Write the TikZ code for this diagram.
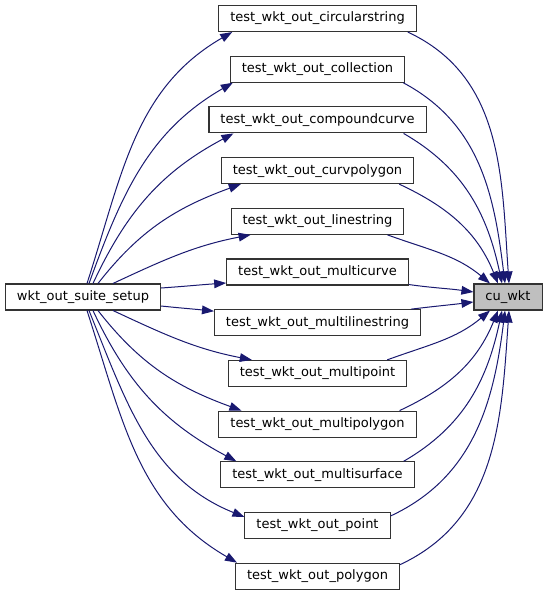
\documentclass[tikz,border=0pt]{standalone}
\usepackage{fontspec}
\setmainfont{DejaVu Sans}
\usetikzlibrary{arrows.meta}
\definecolor{callblue}{HTML}{191970}
\definecolor{hitgray}{HTML}{BFBFBF}
\tikzset{
   fn/.style = {draw=black!80, fill=white, line width=0.8pt, minimum height=19.5pt,
                inner xsep=8.6pt, inner ysep=0pt, font=\fontsize{9.75}{11}\selectfont},
   call/.style = {callblue, line width=0.75pt, -{Triangle[length=9pt,width=6.5pt]}},
}
\begin{document}
\begin{tikzpicture}[x=0.75pt, y=-0.75pt]
\useasboundingbox (0,0) rectangle (548,595);

\node[fn] (suite) at (83,297) {wkt\_out\_suite\_setup};
\node[fn, fill=hitgray] (cu) at (508,297) {cu\_wkt};

\foreach \name [count=\i] in {circularstring, collection, compoundcurve, curvpolygon, linestring, multicurve,
      multilinestring, multipoint, multipolygon, multisurface, point, polygon}
   \node[fn] (t\i) at (317.5, {18.5 + (\i-1)*50.7}) {test\_wkt\_out\_\name};

% setup -> tests
\foreach \i/\sa/\sx/\sy/\ea/\ex/\ey/\oa/\ia in {
      1/north/4/0/south west/14/0/72/210,
      2/north/6/0/south west/3/0/70/210,
      3/north/10/0/south west/25/0/65/208,
      4/north/15/0/south west/20/0/52/200,
      5/north/30/0/south west/20/0/25/191,
      6/east/0/-9/west/0/11/4/184,
      7/east/0/9/north west/0/2/-6/174,
      8/south/30/0/north west/24/0/-25/169,
      9/south/15/0/north west/23/0/-52/160,
      10/south/10/0/north west/16/0/-65/152,
      11/south/6/0/north west/0/5/-68/158,
      12/south/4/0/north west/2/0/-72/150}
   \draw[call] ([shift={(\sx,\sy)}]suite.\sa) to[out=\oa, in=\ia] ([shift={(\ex,\ey)}]t\i.\ea);

% tests -> cu_wkt
\foreach \i/\sa/\sx/\sy/\ea/\ex/\ey/\oa/\ia in {
      1/south east/-9/0/north/1/0/-25/94,
      2/south east/-2/0/north/-3/0/-28/97,
      3/south east/-23/0/north/-6/0/-30/102,
      4/south east/-15/0/north/-10/0/-25/112,
      5/south east/-17/0/north/-18/0/-20/140,
      6/south east/0/-1/west/0/-5/-8/172,
      7/north east/-10/0/west/0/5/7/187,
      8/north east/-20/0/south/-18/0/20/220,
      9/north east/-17/0/south/-10/0/25/248,
      10/north east/-11/0/south/-6/0/30/258,
      11/north east/0/4/south/-3/0/25/263,
      12/north east/0/2/south/1/0/25/266}
   \draw[call] ([shift={(\sx,\sy)}]t\i.\sa) to[out=\oa, in=\ia] ([shift={(\ex,\ey)}]cu.\ea);
\end{tikzpicture}
\end{document}
